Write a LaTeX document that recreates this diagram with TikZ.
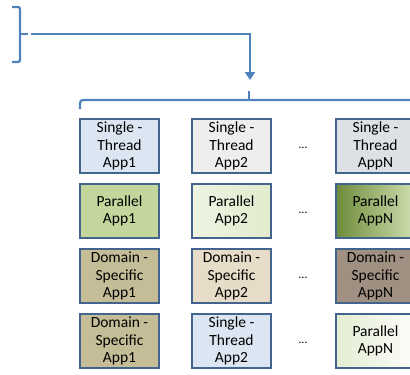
\documentclass[tikz,border=0pt]{standalone}
\usepackage{fontspec}
\setmainfont{Carlito}
\usepackage{xcolor}
\usetikzlibrary{arrows.meta}

\definecolor{linkblue}{HTML}{4F81BD}
\definecolor{boxedge}{HTML}{43648C}
\definecolor{threadblue}{HTML}{DCE6F2}
\definecolor{paperwhite}{HTML}{EEEEEC}
\definecolor{marblegray}{HTML}{DDE1E6}
\definecolor{oliveleaf}{HTML}{C3D69B}
\definecolor{paleleaf}{HTML}{EEF4E2}
\definecolor{darkleaf}{HTML}{6E8C3C}
\definecolor{khaki}{HTML}{C4BD97}
\definecolor{sandcloth}{HTML}{E6DCC8}
\definecolor{granite}{HTML}{9F9081}

\tikzset{
  app/.style={draw=boxedge, line width=2pt, minimum width=79pt, minimum height=54pt,
    inner sep=0pt, align=center, font=\fontsize{15.5}{17.5}\selectfont},
  link/.style={draw=linkblue, line width=2.2pt},
  gap/.style={font=\fontsize{12}{14}\selectfont}
}

\begin{document}
\begin{tikzpicture}[x=1pt,y=-1pt]

\useasboundingbox (0,0) rectangle (410,375);

% upper brace and arrow
\draw[link, rounded corners=2pt] (12,7)--(20,7)--(20,62)--(12,62);
\draw[link] (20,34)--(28,34);
\coordinate (src) at (31,34);
\coordinate (dst) at (250,80);
\draw[link, -{Triangle[length=8pt,width=10pt]}] (src) -| (dst);

% lower brace
\draw[link, rounded corners=3pt] (80,109)--(80,100)--(420,100);
\draw[link] (249,100)--(249,91);

% first row
\node[app, fill=threadblue] (st1) at (119.5,146) {Single -\\Thread\\App1};
\node[app, fill=paperwhite] (st2) at (231.5,146) {Single -\\Thread\\App2};
\node[app, fill=marblegray] (stn) at (375.5,146) {Single -\\Thread\\AppN};
\node[gap] (dots1) at (303,148) {\dots};

% second row
\node[app, fill=oliveleaf] (pa1) at (119.5,211) {Parallel\\App1};
\node[app, left color=paleleaf, right color=paleleaf!70!oliveleaf] (pa2) at (231.5,211) {Parallel\\App2};
\node[app, shading=axis, shading angle=45, left color=darkleaf, right color=oliveleaf!80!white] (pan) at (375.5,211) {Parallel\\AppN};
\node[gap] (dots2) at (303,213) {\dots};

% third row
\node[app, fill=khaki] (ds1) at (119.5,276) {Domain -\\Specific\\App1};
\node[app, fill=sandcloth] (ds2) at (231.5,276) {Domain -\\Specific\\App2};
\node[app, fill=granite] (dsn) at (375.5,276) {Domain -\\Specific\\AppN};
\node[gap] (dots3) at (303,278) {\dots};

% fourth row
\node[app, fill=khaki] (mx1) at (119.5,341) {Domain -\\Specific\\App1};
\node[app, fill=threadblue] (mx2) at (231.5,341) {Single -\\Thread\\App2};
\node[app, shading=axis, shading angle=45, left color=oliveleaf!45!white, right color=white!95!oliveleaf] (mxn) at (375.5,341) {Parallel\\AppN};
\node[gap] (dots4) at (303,343) {\dots};

\end{tikzpicture}
\end{document}
